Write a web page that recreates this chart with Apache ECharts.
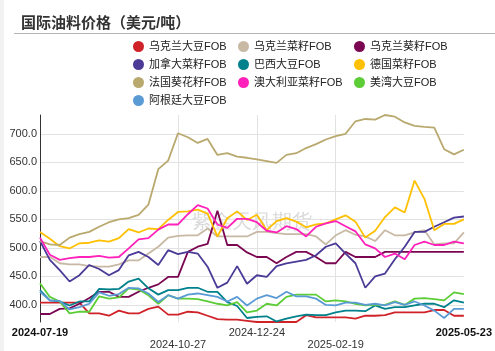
<!DOCTYPE html>
<html><head><meta charset="utf-8">
<script src="https://cdn.jsdelivr.net/npm/echarts@6/dist/echarts.min.js"></script>
<style>html,body{margin:0;padding:0;background:#fff}#c{width:495px;height:351px}</style>
</head><body><div id="c"></div>
<script>
const dates = ['2024-07-19','2024-07-26','2024-08-02','2024-08-09','2024-08-16','2024-08-23','2024-08-30','2024-09-06','2024-09-13','2024-09-20','2024-09-27','2024-10-11','2024-10-18','2024-10-22','2024-10-27','2024-11-03','2024-11-10','2024-11-17','2024-11-24','2024-12-01','2024-12-08','2024-12-15','2024-12-24','2024-12-31','2025-01-07','2025-01-14','2025-01-21','2025-01-28','2025-02-07','2025-02-12','2025-02-19','2025-02-26','2025-03-05','2025-03-12','2025-03-19','2025-03-26','2025-04-02','2025-04-09','2025-04-16','2025-04-23','2025-04-30','2025-05-09','2025-05-16','2025-05-23'];
const ukrSoy  = [404,404,404,404,404,385,385,381,390,385,385,393,397,383,383,388,387,381,375,374,374,372,370,370,370,370,370,382,378,378,378,378,376,381,381,382,387,387,387,387,391,391,381,381];
const ukrRape = [484,484,473,471,471,468,467,467,471,478,478,490,502,518,521,522,522,534,520,520,520,520,528,528,526,524,524,524,520,506,522,531,523,520,512,531,522,522,527,531,506,508,508,527];
const ukrSun  = [384,384,393,394,402,412,423,423,414,414,423,430,436,449,449,493,502,507,565,505,505,492,484,484,473,484,493,493,484,473,473,493,484,484,484,493,493,493,493,493,493,493,493,493];
const canRape = [512,479,461,441,452,470,463,452,461,487,493,484,470,496,489,493,490,467,430,439,468,437,452,449,468,473,476,479,487,502,508,490,473,430,450,455,480,502,528,528,537,545,553,555];
const braSoy  = [426,408,406,399,406,406,428,427,428,441,446,429,418,426,426,430,430,423,423,405,398,377,379,380,371,376,380,383,382,382,387,390,390,389,399,393,396,396,399,402,402,396,408,404];
const gerRape = [528,516,503,499,508,509,513,511,517,533,527,534,533,549,563,564,567,560,520,552,564,549,558,531,547,552,546,536,541,543,550,557,546,518,530,554,571,562,618,586,531,542,542,550];
const fraSun  = [512,506,505,518,524,528,537,545,550,552,558,576,638,653,701,694,684,691,663,666,660,658,655,652,649,663,666,675,682,690,696,700,722,726,725,733,730,720,714,712,711,673,664,672];
const ausRape = [518,488,479,482,484,484,486,483,484,499,515,517,532,541,541,559,575,569,541,535,551,551,545,530,527,538,533,520,537,543,547,538,529,506,499,484,490,480,505,511,505,505,511,508];
const usSoy   = [438,414,406,385,388,388,415,411,413,429,427,417,402,417,411,411,410,406,402,399,405,387,390,402,399,414,418,418,418,406,408,406,402,399,400,400,406,400,411,412,410,408,422,419];
const argSoy  = [423,408,407,392,396,402,422,416,419,430,429,420,405,417,411,418,420,417,414,406,414,399,411,417,412,423,415,415,411,400,399,404,404,400,402,399,405,400,406,399,390,377,393,393];
const seriesNames = ['乌克兰大豆FOB','乌克兰菜籽FOB','乌克兰葵籽FOB','加拿大菜籽FOB','巴西大豆FOB','德国菜籽FOB','法国葵花籽FOB','澳大利亚菜籽FOB','美湾大豆FOB','阿根廷大豆FOB'];
const seriesData = [ukrSoy, ukrRape, ukrSun, canRape, braSoy, gerRape, fraSun, ausRape, usSoy, argSoy];
const colors = ['#cf2229','#c8b9a5','#7b0752','#4b3a96','#00818b','#ffc000','#b9a96e','#ff21b9','#5ccd36','#5b9bd5'];
const yTicks = [400,450,500,550,600,650,700];
const xLabelIdx = [0,14,22,30,43];
const xGridIdx = [14,22,30];

const FONT = 'Arial, "Liberation Sans", "Noto Sans CJK SC", sans-serif';
const chart = echarts.init(document.getElementById('c'), null, {renderer:'canvas'});
const legendCols = [[0,3,6,9],[1,4,7],[2,5,8]];
const legendLeft = [133,238,354];
chart.setOption({
  animation:false,
  color: colors,
  title:{text:'国际油料价格（美元/吨）', left:16, top:11, textStyle:{fontSize:15, fontWeight:'bold', color:'#333', fontFamily:FONT}},
  graphic:[
    {type:'rect', left:0, top:0, shape:{width:4, height:351}, style:{fill:'#f2f2f2'}, silent:true},
    {type:'line', shape:{x1:14, y1:33.5, x2:495, y2:33.5}, style:{stroke:'#b4b4b4', lineWidth:1.2}, silent:true},
    {type:'text', x:252, y:222, z:-1, style:{text:'紫金天风期货', fontSize:20, fill:'#dadada', align:'center', verticalAlign:'middle', font:'20px "Noto Sans CJK SC", sans-serif'}, silent:true}
  ],
  legend: legendCols.map((col,k)=>({
    orient:'vertical', left:legendLeft[k], top:41, padding:0, itemGap:7,
    itemWidth:11, itemHeight:11, icon:'circle',
    data: col.map(i=>seriesNames[i]),
    textStyle:{fontSize:11, color:'#222', fontFamily:FONT}
  })),
  grid:{left:40, right:31, top:115, bottom:29},
  xAxis:{
    type:'category', data:dates, boundaryGap:false,
    axisLine:{show:false}, axisTick:{show:false},
    splitLine:{show:true, interval:(i)=>xGridIdx.includes(i), lineStyle:{color:'#e2e2e2', width:1}},
    axisLabel:{
      interval:(i)=>xLabelIdx.includes(i), margin:5,
      formatter:(v,i)=>{
        if(i===0||i===dates.length-1) return '{b|'+v+'}';
        return (xLabelIdx.indexOf(i)%2===1) ? '{l|'+v+'}' : '{n|'+v+'}';
      },
      rich:{
        b:{fontSize:11, fontWeight:'bold', color:'#111', fontFamily:FONT},
        n:{fontSize:11, color:'#333', fontFamily:FONT},
        l:{fontSize:11, color:'#333', fontFamily:FONT, padding:[12,0,0,0]}
      }
    }
  },
  yAxis:{
    type:'value', min:'dataMin', max:'dataMax', scale:true,
    axisLine:{show:true, lineStyle:{color:'#333', width:1}},
    axisTick:{show:false, customValues:yTicks},
    splitLine:{show:true, lineStyle:{color:'#e2e2e2', width:1}},
    axisLabel:{customValues:yTicks, margin:3, fontSize:11, color:'#333', fontFamily:FONT, formatter:(v)=>v.toFixed(1)}
  },
  series: seriesNames.map((n,k)=>({
    name:n, type:'line', data:seriesData[k], showSymbol:false, symbol:'none',
    lineStyle:{width:1.8, color:colors[k]}, itemStyle:{color:colors[k]}
  }))
});
</script></body></html>
